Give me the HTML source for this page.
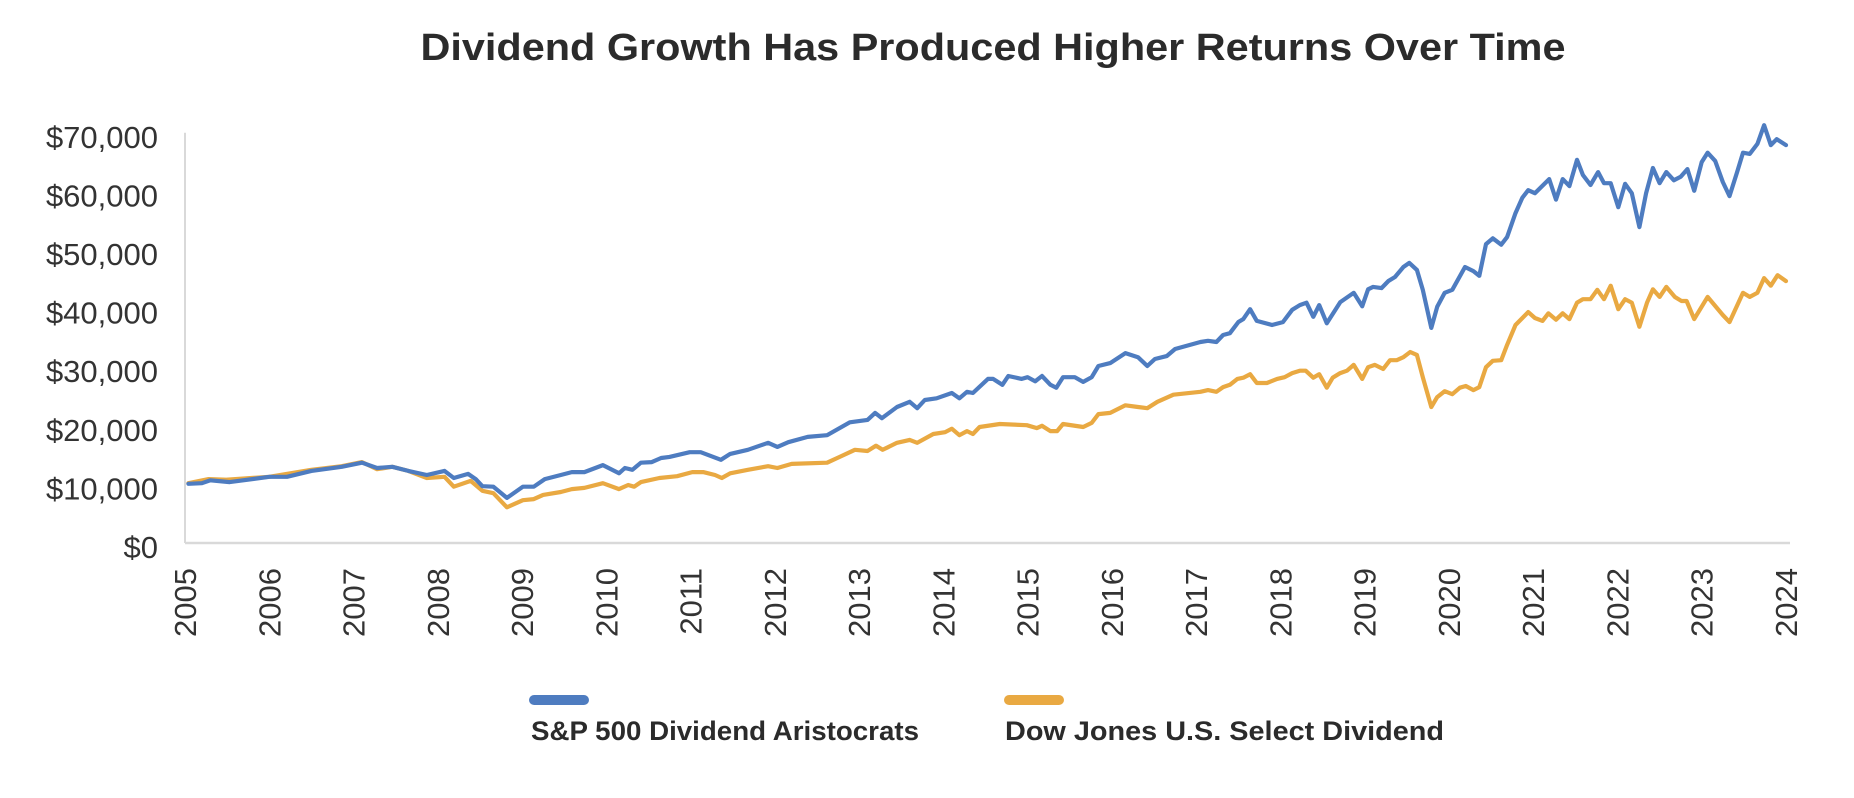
<!DOCTYPE html>
<html>
<head>
<meta charset="utf-8">
<style>
html,body{margin:0;padding:0;background:#fff;}
svg{display:block;font-family:"Liberation Sans",sans-serif;}
</style>
</head>
<body>
<svg id="chart" width="1854" height="798" viewBox="0 0 1854 798" xmlns="http://www.w3.org/2000/svg">
  <rect width="1854" height="798" fill="#fff"/>
  <text x="993" y="60" text-anchor="middle" font-size="38" font-weight="bold" fill="#2b2b2b" textLength="1145" lengthAdjust="spacingAndGlyphs">Dividend Growth Has Produced Higher Returns Over Time</text>
  <g id="yaxis"></g>
  <g id="xaxis"></g>
  <g id="series"></g>
  <g>
    <line x1="534" y1="700" x2="584" y2="700" stroke="#4e7cc0" stroke-width="10" stroke-linecap="round"/>
    <text x="531" y="740" font-size="27" font-weight="bold" fill="#2b2b2b" textLength="388" lengthAdjust="spacingAndGlyphs">S&amp;P 500 Dividend Aristocrats</text>
    <line x1="1009" y1="700" x2="1059" y2="700" stroke="#e9a942" stroke-width="10" stroke-linecap="round"/>
    <text x="1005" y="740" font-size="27" font-weight="bold" fill="#2b2b2b" textLength="439" lengthAdjust="spacingAndGlyphs">Dow Jones U.S. Select Dividend</text>
  </g>
</svg>
<script>
const yTicks = [0,10000,20000,30000,40000,50000,60000,70000];
const yTickLabels = ["$0","$10,000","$20,000","$30,000","$40,000","$50,000","$60,000","$70,000"];
const xTickYears = [2005,2006,2007,2008,2009,2010,2011,2012,2013,2014,2015,2016,2017,2018,2019,2020,2021,2022,2023,2024];

const blueYears = [2005.04,2005.2,2005.3,2005.53,2006.0,2006.21,2006.5,2006.86,2007.1,2007.28,2007.46,2007.65,2007.87,2008.08,2008.19,2008.36,2008.45,2008.53,2008.66,2008.82,2009.01,2009.14,2009.27,2009.46,2009.59,2009.74,2009.96,2010.15,2010.22,2010.31,2010.41,2010.54,2010.65,2010.75,2010.99,2011.12,2011.36,2011.47,2011.68,2011.92,2012.03,2012.16,2012.39,2012.62,2012.89,2013.1,2013.19,2013.27,2013.45,2013.6,2013.69,2013.78,2013.92,2014.1,2014.19,2014.28,2014.35,2014.53,2014.59,2014.7,2014.77,2014.93,2015.0,2015.09,2015.17,2015.27,2015.34,2015.42,2015.56,2015.66,2015.76,2015.84,2015.98,2016.16,2016.31,2016.42,2016.51,2016.65,2016.75,2017.05,2017.14,2017.24,2017.32,2017.4,2017.5,2017.56,2017.64,2017.72,2017.9,2018.03,2018.14,2018.23,2018.31,2018.39,2018.46,2018.55,2018.71,2018.87,2018.97,2019.04,2019.1,2019.2,2019.28,2019.36,2019.46,2019.53,2019.62,2019.69,2019.79,2019.86,2019.95,2020.04,2020.19,2020.29,2020.36,2020.44,2020.52,2020.62,2020.69,2020.79,2020.87,2020.94,2021.02,2021.19,2021.27,2021.35,2021.43,2021.52,2021.59,2021.68,2021.77,2021.84,2021.92,2022.01,2022.09,2022.17,2022.26,2022.34,2022.42,2022.5,2022.58,2022.67,2022.75,2022.83,2022.91,2023.0,2023.07,2023.16,2023.25,2023.33,2023.42,2023.49,2023.57,2023.66,2023.74,2023.82,2023.89,2024.0];
const blueValues = [10100,10200,10700,10400,11300,11300,12300,13000,13700,12800,13000,12300,11600,12300,11100,11800,10900,9700,9600,7700,9600,9600,10900,11600,12100,12100,13300,11900,12800,12500,13700,13800,14500,14700,15500,15500,14200,15200,15900,17100,16400,17200,18100,18400,20600,21000,22200,21300,23200,24100,23000,24400,24700,25600,24700,25800,25600,28000,28000,27000,28500,28000,28300,27600,28500,27000,26500,28300,28300,27500,28300,30200,30700,32400,31700,30200,31400,31900,33100,34300,34500,34300,35500,35800,37700,38200,39900,37900,37200,37700,39800,40600,41000,38600,40600,37500,41100,42700,40400,43300,43700,43500,44700,45400,47100,47800,46600,43200,36700,40300,42700,43200,47100,46400,45600,51000,52000,50900,52200,56300,58900,60200,59700,62100,58600,62100,60900,65400,62800,61100,63300,61400,61400,57300,61300,59700,53900,59700,64000,61400,63300,61900,62500,63800,60100,65000,66600,65200,61600,59200,63300,66600,66400,68100,71300,67900,68900,67900];

const orangeYears = [2005.04,2005.28,2005.49,2006.0,2006.5,2006.86,2007.1,2007.28,2007.46,2007.65,2007.87,2008.08,2008.19,2008.39,2008.53,2008.66,2008.82,2009.01,2009.14,2009.25,2009.46,2009.59,2009.74,2009.96,2010.15,2010.26,2010.33,2010.41,2010.63,2010.84,2011.02,2011.15,2011.29,2011.37,2011.47,2011.68,2011.92,2012.03,2012.2,2012.62,2012.77,2012.95,2013.1,2013.2,2013.28,2013.45,2013.6,2013.69,2013.88,2014.02,2014.1,2014.19,2014.28,2014.35,2014.43,2014.67,2014.99,2015.11,2015.17,2015.27,2015.35,2015.42,2015.66,2015.76,2015.84,2015.98,2016.16,2016.31,2016.42,2016.54,2016.73,2017.05,2017.14,2017.24,2017.32,2017.4,2017.49,2017.56,2017.64,2017.72,2017.84,2017.96,2018.05,2018.14,2018.23,2018.3,2018.39,2018.46,2018.55,2018.62,2018.71,2018.79,2018.87,2018.97,2019.04,2019.12,2019.22,2019.3,2019.38,2019.46,2019.54,2019.62,2019.69,2019.79,2019.86,2019.95,2020.04,2020.13,2020.2,2020.29,2020.36,2020.44,2020.52,2020.62,2020.69,2020.79,2020.94,2021.02,2021.11,2021.18,2021.27,2021.35,2021.43,2021.52,2021.59,2021.68,2021.76,2021.84,2021.92,2022.01,2022.09,2022.17,2022.26,2022.35,2022.42,2022.5,2022.58,2022.68,2022.76,2022.82,2022.91,2023.07,2023.25,2023.33,2023.49,2023.57,2023.66,2023.74,2023.82,2023.9,2024.0];
const orangeValues = [10200,10900,10800,11300,12500,13100,13800,12600,13000,12300,11100,11300,9600,10600,8900,8500,6100,7300,7500,8200,8700,9200,9400,10200,9200,9900,9600,10400,11100,11400,12100,12100,11600,11100,11900,12500,13100,12800,13500,13700,14700,15900,15700,16600,15900,17100,17600,17100,18600,18900,19500,18400,19100,18600,19800,20300,20100,19600,20000,19100,19100,20300,19800,20500,22000,22200,23500,23200,23000,24100,25300,25800,26100,25800,26600,27000,28000,28200,28800,27300,27300,28000,28300,29000,29400,29400,28200,28800,26500,28200,29000,29400,30400,28000,30000,30400,29700,31200,31200,31700,32600,32100,28300,23200,24900,25900,25400,26500,26800,26100,26600,30000,31100,31200,33800,37200,39400,38400,37900,39200,38100,39200,38200,41000,41600,41600,43200,41600,43900,39900,41600,41000,36900,41000,43300,42000,43700,42000,41300,41300,38200,42000,38900,37700,42700,42000,42700,45200,43900,45700,44700];

const NS = "http://www.w3.org/2000/svg";
const X0 = 185, X1 = 1786, Y0 = 543, YTOP = 132.8;
function xScale(yr){ return X0 + (yr - 2005) / (2024 - 2005) * (X1 - X0); }
function yScale(v){ return Y0 - v / 70000 * (Y0 - YTOP); }

const yaxis = document.getElementById('yaxis');
const xaxis = document.getElementById('xaxis');
const series = document.getElementById('series');

const vAxis = document.createElementNS(NS,'line');


vAxis.setAttribute('x1', X0); vAxis.setAttribute('x2', X0);
vAxis.setAttribute('y1', YTOP); vAxis.setAttribute('y2', Y0);
vAxis.setAttribute('stroke', '#d9d9d9'); vAxis.setAttribute('stroke-width', '2');
yaxis.appendChild(vAxis);

const hAxis = document.createElementNS(NS,'line');


hAxis.setAttribute('x1', X0); hAxis.setAttribute('x2', 1790);
hAxis.setAttribute('y1', Y0); hAxis.setAttribute('y2', Y0);
hAxis.setAttribute('stroke', '#d9d9d9'); hAxis.setAttribute('stroke-width', '2.5');
xaxis.appendChild(hAxis);

yTicks.forEach((v,i)=>{
  const t = document.createElementNS(NS,'text');
  
  
  t.setAttribute('x', 158);
  t.setAttribute('y', yScale(v) + 15);
  t.setAttribute('text-anchor', 'end');
  t.setAttribute('font-size', '31');
  t.setAttribute('fill', '#333');
  t.textContent = yTickLabels[i];
  yaxis.appendChild(t);
});

xTickYears.forEach(yr=>{
  const t = document.createElementNS(NS,'text');
  
  
  const x = xScale(yr) + 11;
  t.setAttribute('x', x); t.setAttribute('y', 568);
  t.setAttribute('transform', 'rotate(-90 ' + x + ' 568)');
  t.setAttribute('text-anchor', 'end');
  t.setAttribute('font-size', '31');
  t.setAttribute('fill', '#333');
  t.textContent = String(yr);
  xaxis.appendChild(t);
});

function drawLine(years, vals, color, name){
  const d = years.map((yr,i)=>(i?'L':'M') + xScale(yr).toFixed(1) + ' ' + yScale(vals[i]).toFixed(1)).join(' ');
  const p = document.createElementNS(NS,'path');
  
  
  p.setAttribute('d', d);
  p.setAttribute('fill', 'none');
  p.setAttribute('stroke', color);
  p.setAttribute('stroke-width', '4.2');
  p.setAttribute('stroke-linejoin', 'round');
  p.setAttribute('stroke-linecap', 'round');
  series.appendChild(p);
}
drawLine(orangeYears, orangeValues, '#e9a942', 'dow-jones-select-dividend-line');
drawLine(blueYears, blueValues, '#4e7cc0', 'sp500-dividend-aristocrats-line');
</script>
</body>
</html>
